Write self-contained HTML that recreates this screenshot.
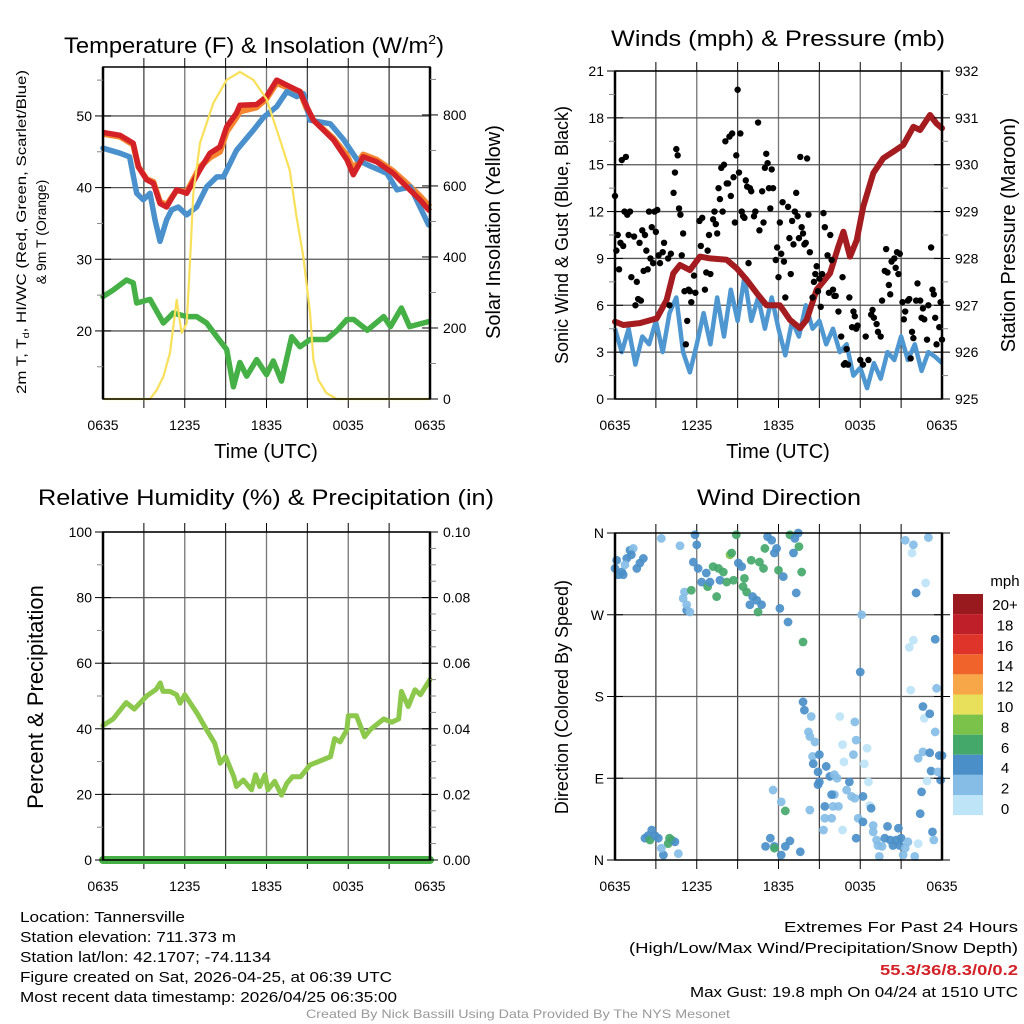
<!DOCTYPE html>
<html><head><meta charset="utf-8"><style>
body{margin:0;background:#fff;}
svg{display:block;font-family:"Liberation Sans",Arial,sans-serif;}
</style></head><body>
<svg id="s" width="1024" height="1024" viewBox="0 0 1024 1024">
<g id="g"></g>
</svg>
<script>
// ---- Panel 1: temperature ----
const tempTimes=[0,1.25,2.22,2.6,3.2,3.7,4.18,4.67,5.4,6.14,7.12,7.85,8.59,9.08,9.8,10.05,11.28,12.0,12.75,13.48,14.46,14.95,15.44,16.9,17.9,18.37,19.1,20.09,21.3,22.3,23.27,23.9,24];
const temp2m=[47.7,47.3,46.2,42.9,41.1,40.6,37.8,37.3,39.7,39.2,42.5,44.8,45.7,48.5,50.4,51.5,51.6,52.7,55.0,54.3,53.4,51.3,49.4,46.7,43.9,41.8,44.3,43.6,42.0,40.1,38.3,36.9,36.7];
const temp9m=[47.5,47.1,46.0,42.9,41.2,40.8,38.0,37.6,39.6,39.4,42.9,44.2,45.0,47.8,49.8,50.6,51.2,52.4,54.6,54.0,53.4,51.0,49.4,46.9,44.5,42.6,44.6,43.9,42.3,40.6,38.8,37.5,37.3];
const wcTimes=[0,1.25,1.95,2.47,2.96,3.45,3.82,4.18,4.67,5.04,5.53,6.14,6.87,7.6,8.35,8.84,9.8,11.03,11.77,12.75,13.48,14.22,14.71,15.2,16.68,17.66,18.64,19.62,20.84,21.58,22.56,23.9];
const tempWC=[45.5,44.8,44.3,39.2,38.3,39.2,35.5,32.5,35.5,36.9,37.3,36.2,37.3,40.1,41.5,41.5,45.2,48.0,49.8,51.3,53.4,52.7,53.1,49.4,48.9,46.7,43.9,43.0,42.0,39.7,40.1,34.8];
const dewTimes=[0,0.75,1.73,2.22,2.47,3.45,4.43,5.16,6.14,6.87,7.6,8.35,9.08,9.57,10.05,10.55,11.28,12.0,12.5,13.1,13.85,14.46,15.2,16.4,17.2,17.9,18.4,19.4,20.6,21.1,21.9,22.5,23.9];
const dewPt=[24.8,25.7,27.1,26.7,23.9,24.4,21.1,22.5,22.0,22.0,21.1,19.2,17.4,12.2,15.6,13.7,16.0,13.9,15.8,13.0,19.2,17.8,18.8,18.8,20.1,21.6,21.6,20.1,22.0,20.6,23.2,20.6,21.3];
const solarTimes=[0,3.45,3.94,4.43,4.92,5.41,5.77,6.14,6.39,6.63,7.12,8.1,9.08,10.05,11.03,12.0,12.99,13.7,14.2,14.7,15.2,15.44,15.8,16.4,17.15,24];
const solar=[0,0,25,63,130,279,186,213,392,580,721,834,899,921,899,845,730,645,514,401,241,110,54,17,0,0];
const tTicks=["0635","1235","1835","0035","0635"];
const tempTicks=[20,30,40,50];
const solarTicks=[0,200,400,600,800];
// ---- Panel 2: winds ----
const windTimes=[0,0.5,1,1.5,2,2.5,3,3.5,4,4.5,5,5.5,6,6.5,7,7.5,8,8.5,9,9.5,10,10.5,11,11.5,12,12.5,13,13.5,14,14.5,15,15.5,16,16.5,17,17.5,18,18.5,19,19.5,20,20.5,21,21.5,22,22.5,23,23.5,24];
const windSpeed=[4.5,3,4.5,2.2,4,3.5,5,3,5.5,6.5,3,1.7,3.5,5.5,3.5,6.5,4,7,5,7.8,5,6.5,4.5,6.5,4.5,2.8,5,4,6,4.5,5,3.5,4.5,3,3.5,1.5,2,0.7,2.3,1.3,3,2.5,4,2.5,3.5,1.8,3,2.7,2.3];
const gustTimes=[0,0.1,0.2,0.3,0.4,0.5,0.6,0.7,0.8,0.9,1.0,1.1,1.2,1.4,1.5,1.6,1.7,1.8,1.9,2.0,2.1,2.2,2.3,2.4,2.5,2.6,2.7,2.8,2.9,3.0,3.1,3.2,3.3,3.5,3.6,3.9,4.0,4.1,4.3,4.4,4.5,4.6,4.7,4.8,4.9,5.0,5.1,5.2,5.3,5.4,5.5,5.6,5.8,5.9,6.2,6.3,6.4,6.6,6.7,6.8,6.9,7.0,7.2,7.3,7.4,7.5,7.6,7.7,7.8,7.9,8.0,8.1,8.2,8.3,8.4,8.5,8.6,8.7,8.8,8.9,9.0,9.1,9.2,9.3,9.4,9.5,9.6,9.7,9.8,9.9,10.0,10.2,10.3,10.5,10.6,10.8,10.9,11.0,11.1,11.2,11.3,11.4,11.5,11.6,11.8,11.9,12.0,12.1,12.2,12.3,12.4,12.5,12.7,12.8,12.9,13.0,13.1,13.2,13.3,13.4,13.5,13.6,13.7,13.8,13.9,14.0,14.1,14.2,14.3,14.5,14.6,14.7,14.8,14.9,15.0,15.1,15.2,15.3,15.4,15.6,15.7,15.8,15.9,16.0,16.1,16.2,16.4,16.6,16.7,16.8,16.9,17.0,17.1,17.2,17.4,17.5,17.6,17.7,17.8,18.0,18.2,18.4,18.6,18.8,18.9,19.0,19.2,19.3,19.5,19.6,19.8,19.9,20.0,20.1,20.2,20.3,20.5,20.6,20.7,20.8,20.9,21.1,21.2,21.3,21.5,21.6,21.7,21.8,21.9,22.1,22.2,22.4,22.5,22.6,22.7,22.9,23.0,23.2,23.3,23.4,23.5,23.6,23.8,23.9,24.0];
const gustSpeed=[13,9.5,10.5,8.3,10,15.3,9.8,12,15.5,11.8,10.5,12,7.8,10.4,6,7.5,6.4,10,6.3,10.8,8.2,10.5,9.5,8.3,12,9,11,8.7,12,10.7,12.1,9.2,8.7,9.4,10,9,6,9.3,13.2,14.5,16,15.6,12.2,11.8,9.2,10.6,6.9,3.5,5,7,6.9,6.2,7.9,6.8,11.4,9.8,11.6,7,8.1,9.5,10.5,8,11.5,12,11.2,10.6,13.5,12.8,14.8,12,15,16.5,13.8,13.8,16.8,13,17,14.2,11.3,15.6,19.8,14.5,17,12,11.7,11.6,14,13.6,8.7,13.5,13.3,11.7,12,17.7,10.8,13.3,11.3,14.8,15.7,15.1,13.5,12.2,14.7,13.5,8.9,9.7,7.8,11.3,9.3,12.6,8.8,6.5,12.3,10.3,8,11.4,9.9,12,13.2,11.7,10.3,15.5,11,10.6,9.9,10,15.4,11.8,9.4,6.5,7.5,8,8.5,6.9,7.7,5.9,8,11.9,11,9.2,6.8,10.5,8.9,7,6.6,6.6,5.6,4,7.8,2.2,2.3,3.2,2.2,6.5,4.6,5.6,5.3,4.5,4.7,2.5,2.2,4,2.5,5.4,5.7,5.2,4.8,4.3,4,6.3,8.2,9.6,8.1,7.3,6.7,8.8,9,8.4,9.4,8,9.3,6.2,5.1,5.6,6.3,6.4,2.6,4.3,3.9,6.3,7.4,6.3,5.2,5.8,5.1,3.8,6,9.7,7,6.7,5.2,3.5,4.6,6.2,3.8];
const presTimes=[0,0.61,1.83,3.06,3.79,4.28,4.77,5.5,6.24,6.97,8.2,8.93,9.67,10.4,11.13,12.1,12.84,13.58,14.07,14.8,15.78,16.39,16.76,17.25,17.74,18.22,18.96,19.69,20.43,21.16,21.9,22.39,23.12,23.6,24];
const pressure=[926.65,926.58,926.62,926.72,927.11,927.68,927.86,927.75,928.04,928.0,927.97,927.79,927.54,927.26,927.0,927.0,926.69,926.51,926.69,927.33,927.68,928.25,928.57,928.04,928.39,929.1,929.82,930.14,930.28,930.42,930.81,930.74,931.06,930.88,930.78];
const windTicks=[0,3,6,9,12,15,18,21];
const presTicks=[925,926,927,928,929,930,931,932];
// ---- Panel 3: RH ----
const rhTimes=[0,0.74,1.7,2.3,3.2,3.9,4.2,4.4,4.9,5.4,5.66,6.0,6.9,7.6,8.2,8.6,9.0,9.6,9.8,10.3,10.9,11.2,11.5,11.9,12.1,12.6,13.1,13.5,13.9,14.5,15.2,16.1,16.7,17.0,17.4,17.9,18.0,18.6,19.2,19.6,20.6,21.2,21.7,21.9,22.4,22.9,23.3,24];
const rh=[41,43,48,46,50,52,54,51.4,51.4,50.4,47.8,50.4,44.8,39.7,35.6,29.5,31.5,25.4,22.4,24.4,21.4,26,22.4,26,21.4,24,19.8,23.4,25.4,25.4,29,30.5,31.5,37,36,39.7,44,44,37.6,39.7,43,42,43,51.4,46.8,51.9,50.4,55];
const precipTimes=[0,24];
const precip=[0,0];
const rhTicks=[0,20,40,60,80,100];
const precipTicks=["0.00","0.02","0.04","0.06","0.08","0.10"];
// ---- Panel 4: wind direction ----
const dirTimes=[0,0.12,0.24,0.5,0.6,0.86,1.1,1.34,1.2,1.6,1.83,2.08,0.73,
2.2,2.44,2.7,2.57,2.93,3.18,3.55,3.9,4.16,4.4,4.65,3.4,4.0,
5.0,5.1,5.26,5.5,5.26,5.6,3.4,4.77,
5.87,6.0,5.75,6.1,6.36,6.7,6.8,6.97,7.2,7.46,7.6,7.7,7.95,8.2,8.44,8.56,8.7,8.9,9.05,9.3,9.4,9.5,9.66,9.9,10.0,10.1,10.4,10.5,10.6,10.76,10.9,11.0,11.2,11.5,11.7,11.86,12.0,12.1,12.35,12.7,12.84,13.1,13.2,13.3,13.5,13.7,13.45,13.8,18.1,
13.8,13.9,14.4,14.2,14.3,14.67,14.5,15.0,14.55,14.9,15.0,14.9,15.5,15.77,16.1,16.3,16.1,15.9,15.4,16.0,16.4,15.4,15.3,14.3,15.9,16.7,16.5,16.7,16.8,17.2,17.0,17.5,17.6,17.7,17.36,17.6,17.85,17.7,18.2,18.2,18.3,18.5,18.6,18.7,18.8,18.95,18.95,19.2,19.3,19.6,19.4,19.8,20.0,20.2,20.4,20.65,20.8,20.9,21.0,21.3,21.15,21.5,22.0,22.25,
11.6,11.7,11.4,11.05,11.7,12.2,12.5,12.5,12.2,12.84,13.6,18.0,
21.3,21.8,21.9,23.0,22.8,22.1,21.9,21.6,23.5,23.6,21.7,22.6,22.7,23.1,23.5,22.6,23.1,23.8,22.25,23.2,23.7,22.9,23.9,22.5,22.4,23.3,23.4,24];
const dirDeg=[321,330,314,317,314,332,341,343,336,321,327,332,325,
24,27,33,22,27,24,5.5,18,22,20,7,13,24,
288,295,275,273,281,297,354,346,
358,347,328,321,306,316,301,306,323,290,321,308,317,306,336,338,308,358,327,323,301,310,295,281,330,290,286,273,328,281,321,343,356,352,338,343,319,277,312,262,358,338,354,294,345,317,360,240,270,
174,165,158,141,136,130,114,116,106,97,86,83,103,92,94,90,72,72,59,59,59,46,33,55,46,33,158,127,108,86,77,116,152,132,70,68,46,24,42,70,106,123,86,60,57,38,31,22,16,15,4,24,37,22,16,22,35,16,24,13,5.5,20,4,18,
77,15,24,15,13,64,54,15,5.5,21,9,207,
352,338,347,355,305,294,242,234,243,189,187,169,156,161,141,119,118,115,112,98,97,87,88,75,51,31,22,115];
const dirSpeed=[4.5,4.5,4.5,4.5,4.5,4.5,4.5,3,4.5,4.5,4.5,4.5,3,
4.5,4.5,4.5,7,4.5,4.5,4.5,7,7,4.5,3,3,7,
3,3,4.5,3,3,7,3,3,
4.5,4.5,4.5,4.5,4.5,4.5,7,4.5,7,7,7,4.5,7,7,8.5,7,7,7,4.5,4.5,7,7,7,4.5,7,4.5,4.5,7,7,4.5,7,7,4.5,4.5,4.5,4.5,7,4.5,4.5,4.5,7,4.5,4.5,4.5,7,7,4.5,7,3,
4.5,4.5,3,3,3,3,3,4.5,4.5,4.5,4.5,4.5,4.5,4.5,3,3,3,4.5,4.5,3,3,3,3,3,3,1,1,1,1,4.5,3,3,3,3,3,3,3,4.5,4.5,4.5,1,1,1,1,4.5,3,3,3,3,3,3,4.5,4.5,4.5,4.5,4.5,4.5,4.5,4.5,3,3,3,3,1,
3,4.5,4.5,4.5,7,3,7,4.5,4.5,4.5,4.5,4.5,
3,1,3,3,1,4.5,1,1,4.5,3,1,4.5,1,4.5,3,3,4.5,4.5,3,4.5,3,1,4.5,4.5,4.5,4.5,3,4.5];
const dirTicks=["N","E","S","W","N"];
const cbLabels=["20+","18","16","14","12","10","8","6","4","2","0"];
const cbColors=["#981a1e","#bf1f28","#df3429","#f0632b","#f8a748","#e8df5a","#7bc24b","#45a86b","#4a8fc8","#86bde6","#bde4f7"];

// ---- drawing ----
const NS="http://www.w3.org/2000/svg";
const G=document.getElementById('g');
function el(tag,attrs,parent,text){const e=document.createElementNS(NS,tag);for(const k in attrs)e.setAttribute(k,attrs[k]);if(text!==undefined)e.textContent=text;(parent||G).appendChild(e);return e;}
function lin(d0,d1,r0,r1){return v=>r0+(v-d0)*(r1-r0)/(d1-d0);}
function grp(name){const g=el('g',{},G);return g;}
function pathD(xs,ys,fx,fy){return xs.map((t,i)=>(i?'L':'M')+fx(t).toFixed(1)+','+fy(ys[i]).toFixed(1)).join('');}

function frame(name,X0,X1,Y0,Y1,hGrid,fy){
  const g=grp(name+'-grid');
  for(let h=3;h<24;h+=3){const x=lin(0,24,X0,X1)(h);el('line',{x1:x,x2:x,y1:Y0,y2:Y1,stroke:(h%6?'#444':'#777'),'stroke-width':1.3},g);
    el('line',{x1:x,x2:x,y1:Y0-9,y2:Y0,stroke:'#000','stroke-width':1},g);el('line',{x1:x,x2:x,y1:Y1,y2:Y1+9,stroke:'#000','stroke-width':1},g);}
  hGrid.forEach(v=>{const y=fy(v);el('line',{x1:X0,x2:X1,y1:y,y2:y,stroke:'#555','stroke-width':1.3},g);});
  return g;
}
function box(name,X0,X1,Y0,Y1){const b=el('rect',{x:X0,y:Y0,width:X1-X0,height:Y1-Y0,fill:'none',stroke:'#000','stroke-width':1.5});
  el('line',{x1:X0,x2:X0,y1:Y0,y2:Y1,stroke:'#000','stroke-width':2.5});el('line',{x1:X1,x2:X1,y1:Y0,y2:Y1,stroke:'#000','stroke-width':2.5});}
function xTicks(name,X0,X1,Y1){const g=grp(name+'-x-ticks');const fx=lin(0,24,X0,X1);
  tTicks.forEach((s,i)=>{const t=el('text',{x:fx(i*6),y:Y1+31,'font-size':14,'text-anchor':'middle'},g,s);});}
function yTicks(name,vals,labels,fy,x,side,minor){const g=grp(name);
  vals.forEach((v,i)=>{const y=fy(v);el('line',{x1:x-8,x2:x+8,y1:y,y2:y,stroke:'#000','stroke-width':1},g);
    const t=el('text',{x:side<0?x-11:x+13,y:y+5,'font-size':14,'text-anchor':side<0?'end':'start'},g,labels[i]);});
  (minor||[]).forEach(v=>{const y=fy(v);el('line',{x1:x,x2:x+(side<0?-6:6),y1:y,y2:y,stroke:'#888','stroke-width':1},g);});}
function label(name,txt,x,y,size,rot,len){const a={x:x,y:y,'font-size':size,'text-anchor':'middle'};if(rot)a.transform=`rotate(-90 ${x} ${y})`;if(len){a.textLength=len;a.lengthAdjust='spacingAndGlyphs';}
  const t=el('text',a,G,txt);return t;}

// Panel 1
(function(){
  const X0=103,X1=430,Y0=67,Y1=399;
  const fx=lin(0,24,X0,X1), fy=lin(10.5,56.83,Y1,Y0), fs=lin(0,935,Y1,Y0);
  frame('temp',X0,X1,Y0,Y1,tempTicks,fy);
  const g=grp('temp-series');
  let p=el('path',{d:pathD(dewTimes,dewPt,fx,fy),fill:'none',stroke:'#45b045','stroke-width':5.5,'stroke-linejoin':'round','stroke-linecap':'round'},g);
  p=el('path',{d:pathD(tempTimes,temp9m,fx,fy),fill:'none',stroke:'#f5862f','stroke-width':6,'stroke-linejoin':'round'},g);
  p=el('path',{d:pathD(wcTimes,tempWC,fx,fy),fill:'none',stroke:'#4a90cc','stroke-width':5.5,'stroke-linejoin':'round','stroke-linecap':'round'},g);
  p=el('path',{d:pathD(tempTimes,temp2m,fx,fy),fill:'none',stroke:'#d42127','stroke-width':5.5,'stroke-linejoin':'round'},g);
  p=el('path',{d:pathD(solarTimes,solar,fx,fs),fill:'none',stroke:'#f8e05a','stroke-width':2.2,'stroke-linejoin':'round'},g);
  box('temp',X0,X1,Y0,Y1);
  yTicks('temp-y-ticks',tempTicks,tempTicks.map(String),fy,X0,-1,[15,25,35,45,55]);
  yTicks('solar-y-ticks',solarTicks,solarTicks.map(String),fs,X1,1,[100,300,500,700,900]);
  xTicks('temp',X0,X1,Y1);
  const t=label('temp-title','Temperature (F) & Insolation (W/m',254,53,22,false,380);
  el('tspan',{'font-size':13,dy:-9},t,'2');el('tspan',{dy:9},t,')');
  label('temp-x-title','Time (UTC)',266,458,20);
  const a=label('temp-y-title','',26,232,14,true,324);
  el('tspan',{},a,'2m T, T');el('tspan',{'font-size':9,dy:3},a,'d');el('tspan',{dy:-3},a,', HI/WC (Red, Green, Scarlet/Blue)');
  label('temp-y-title-2','& 9m T (Orange)',46,232,14,true);
  label('solar-y-title','Solar Insolation (Yellow)',500,232,20,true);
})();

// Panel 2
(function(){
  const X0=615,X1=942,Y0=71,Y1=399;
  const fx=lin(0,24,X0,X1), fy=lin(0,21,Y1,Y0), fp=lin(925,932,Y1,Y0);
  frame('wind',X0,X1,Y0,Y1,windTicks,fy);
  const g=grp('wind-series');
  let p=el('path',{d:pathD(windTimes,windSpeed,fx,fy),fill:'none',stroke:'#4f97d1','stroke-width':4.5,'stroke-linejoin':'round'},g);
  p=el('path',{d:pathD(presTimes,pressure,fx,fp),fill:'none',stroke:'#a41c1f','stroke-width':6,'stroke-linejoin':'round','stroke-linecap':'round'},g);
  const gd=grp('gust-points');
  gustTimes.forEach((t,i)=>{const c=el('circle',{cx:fx(t),cy:fy(gustSpeed[i]),r:3.2,fill:'#000'},gd);});
  box('wind',X0,X1,Y0,Y1);
  yTicks('wind-y-ticks',windTicks,windTicks.map(String),fy,X0,-1,[1.5,4.5,7.5,10.5,13.5,16.5,19.5]);
  yTicks('pressure-y-ticks',presTicks,presTicks.map(String),fp,X1,1,[925.5,926.5,927.5,928.5,929.5,930.5,931.5]);
  xTicks('wind',X0,X1,Y1);
  label('wind-title','Winds (mph) & Pressure (mb)',778,46,22,false,334);
  label('wind-x-title','Time (UTC)',778,458,20);
  label('wind-y-title','Sonic Wind & Gust (Blue, Black)',568,235,18,true);
  label('pressure-y-title','Station Pressure (Maroon)',1015,235,20,true);
})();

// Panel 3
(function(){
  const X0=103,X1=430,Y0=532,Y1=860;
  const fx=lin(0,24,X0,X1), fy=lin(0,100,Y1,Y0), fpr=lin(0,0.1,Y1,Y0);
  frame('rh',X0,X1,Y0,Y1,rhTicks.slice(1),fy);
  const g=grp('rh-series');
  let p=el('path',{d:pathD(rhTimes,rh,fx,fy),fill:'none',stroke:'#8cc84b','stroke-width':5,'stroke-linejoin':'round','stroke-linecap':'round'},g);
  p=el('path',{d:pathD(precipTimes,precip,fx,fpr),fill:'none',stroke:'#46b046','stroke-width':8,'stroke-linecap':'round'},g);
  box('rh',X0,X1,Y0,Y1);
  yTicks('rh-y-ticks',rhTicks,rhTicks.map(String),fy,X0,-1,[10,30,50,70,90]);
  yTicks('precip-y-ticks',precipTicks.map(Number),precipTicks,fpr,X1,1,[0.005,0.01,0.015,0.025,0.03,0.035,0.045,0.05,0.055,0.065,0.07,0.075,0.085,0.09,0.095]);
  xTicks('rh',X0,X1,Y1);
  label('rh-title','Relative Humidity (%) & Precipitation (in)',266,505,22,false,456);
  label('rh-y-title','Percent & Precipitation',43,697,22,true);
})();

// Panel 4
(function(){
  const X0=615,X1=942,Y0=533,Y1=860;
  const fx=lin(0,24,X0,X1), fy=lin(0,360,Y1,Y0);
  frame('dir',X0,X1,Y0,Y1,[90,180,270],fy);
  function col(s){const i=Math.min(10,Math.floor(s/2));return cbColors[10-i];}
  const g=grp('direction-points');
  dirTimes.forEach((t,i)=>{const c=el('circle',{cx:fx(t),cy:fy(dirDeg[i]),r:4.4,fill:col(dirSpeed[i]),'fill-opacity':0.92},g);});
  box('dir',X0,X1,Y0,Y1);
  yTicks('dir-y-ticks',[0,90,180,270,360],["N","E","S","W","N"],fy,X0,-1);
  const gr=grp('dir-right-ticks');[0,90,180,270,360].forEach(v=>el('line',{x1:X1-8,x2:X1+8,y1:fy(v),y2:fy(v),stroke:'#000'},gr));
  xTicks('dir',X0,X1,Y1);
  label('dir-title','Wind Direction',779,505,22,false,164);
  label('dir-y-title','Direction (Colored By Speed)',568,697,18,true);
  const cb=grp('colorbar');
  cbColors.forEach((c,i)=>{const r=el('rect',{x:953,y:594+i*20.1,width:30,height:20.1,fill:c},cb);
    const t=el('text',{x:1005,y:610+i*20.4,'font-size':15,'text-anchor':'middle'},cb,cbLabels[i]);});
  const m=el('text',{x:1005,y:586,'font-size':15,'text-anchor':'middle'},cb,'mph');
})();

// Footer text
const info=["Location: Tannersville","Station elevation: 711.373 m","Station lat/lon: 42.1707; -74.1134","Figure created on Sat, 2026-04-25, at 06:39 UTC","Most recent data timestamp: 2026/04/25 06:35:00"];
const infoLen=[165,216,251,372,377];
const infoG=grp('station-info');
info.forEach((s,i)=>{const t=el('text',{x:20,y:922+i*20,'font-size':15,textLength:infoLen[i],lengthAdjust:'spacingAndGlyphs'},infoG,s);});
const ext=[["Extremes For Past 24 Hours",932,234,'#000','normal'],["(High/Low/Max Wind/Precipitation/Snow Depth)",953,389,'#000','normal'],["55.3/36/8.3/0/0.2",975,138,'#d42127','bold'],["Max Gust: 19.8 mph On 04/24 at 1510 UTC",997,328,'#000','normal']];
const exG=grp('extremes');
ext.forEach(e=>{const t=el('text',{x:1018,y:e[1],'font-size':15,'text-anchor':'end',fill:e[3],'font-weight':e[4],textLength:e[2],lengthAdjust:'spacingAndGlyphs'},exG,e[0]);});
const cr=el('text',{x:518,y:1018,'font-size':12,'text-anchor':'middle',fill:'#999',textLength:424,lengthAdjust:'spacingAndGlyphs'},G,"Created By Nick Bassill Using Data Provided By The NYS Mesonet");


</script>
</body></html>
